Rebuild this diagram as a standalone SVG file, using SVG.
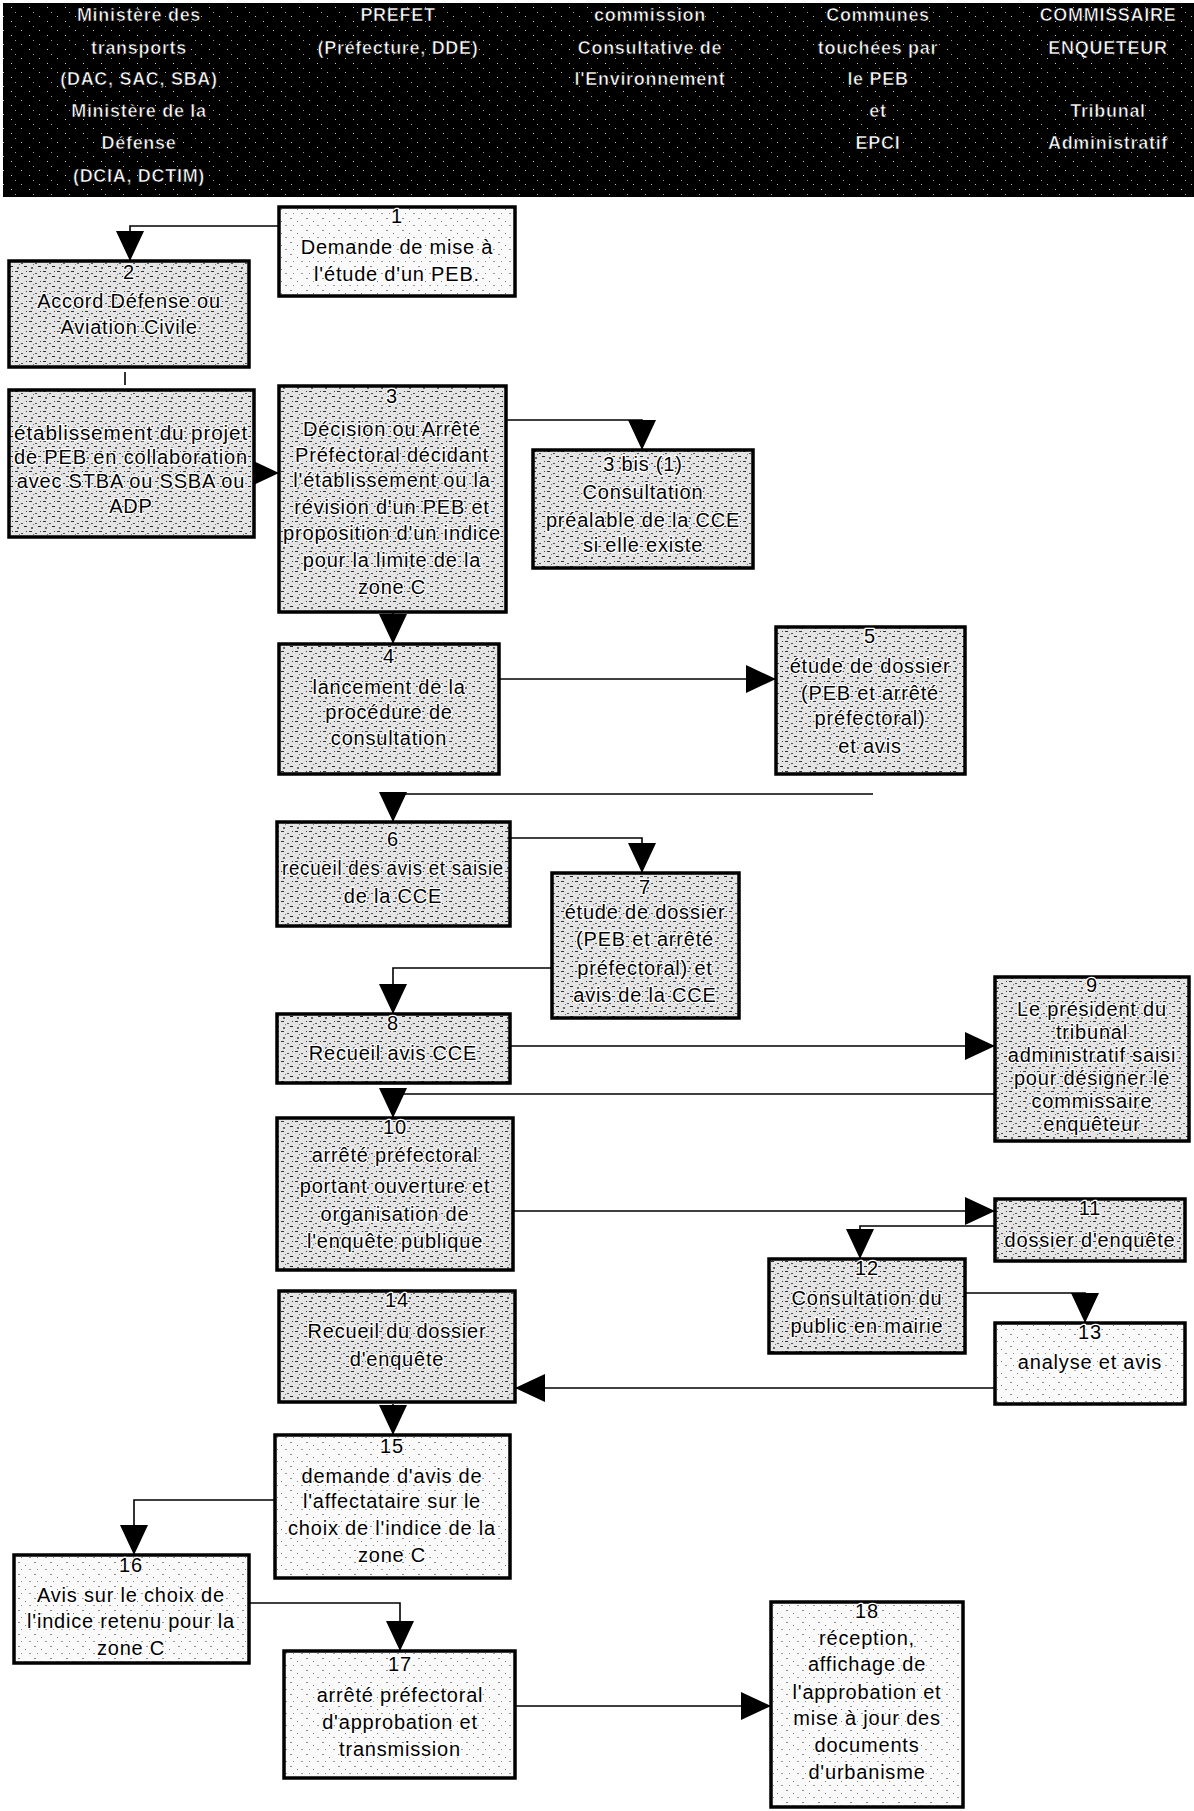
<svg xmlns="http://www.w3.org/2000/svg" width="1194" height="1811" viewBox="0 0 1194 1811">
<style>
.box{stroke:#000;stroke-width:3.5}
.d{fill:url(#nd)}
.l{fill:url(#nl)}
.t{font-family:"Liberation Sans",Arial,sans-serif;font-size:20px;letter-spacing:0.8px;text-anchor:middle;fill:#000;stroke:#fff;stroke-width:2.5px;paint-order:stroke;stroke-linejoin:round}
.h{font-family:"Liberation Sans",Arial,sans-serif;font-size:18px;font-weight:bold;letter-spacing:0.7px;text-anchor:middle;fill:#fff;stroke:#000;stroke-width:0.6px}
.c{fill:none;stroke:#000;stroke-width:1.6;marker-end:url(#ah)}
.c0{fill:none;stroke:#000;stroke-width:1.6}
</style>
<defs>
<marker id="ah" viewBox="0 0 30 28" refX="30" refY="14" markerWidth="30" markerHeight="28" markerUnits="userSpaceOnUse" orient="auto">
<path d="M0,0 L30,14 L0,28 z" fill="#000"/>
</marker>
<pattern id="nd" width="14" height="10" patternUnits="userSpaceOnUse">
<rect width="14" height="10" fill="#e4e4e4"/>
<rect x="1" y="1" width="3" height="1" fill="#333"/>
<rect x="7" y="3" width="2" height="1" fill="#555"/>
<rect x="10" y="6" width="3" height="1" fill="#222"/>
<rect x="3" y="7" width="2" height="2" fill="#666"/>
<rect x="12" y="1" width="1" height="1" fill="#444"/>
<rect x="5" y="4" width="1" height="1" fill="#777"/>
</pattern>
<pattern id="nl" width="16" height="12" patternUnits="userSpaceOnUse">
<rect width="16" height="12" fill="#fafafa"/>
<rect x="2" y="2" width="2" height="1" fill="#888"/>
<rect x="9" y="5" width="1" height="1" fill="#777"/>
<rect x="13" y="9" width="2" height="1" fill="#999"/>
<rect x="5" y="9" width="1" height="1" fill="#888"/>
</pattern>
<pattern id="nh" width="18" height="14" patternUnits="userSpaceOnUse">
<rect width="18" height="14" fill="#000"/>
<rect x="3" y="2" width="1" height="1" fill="#bbb"/>
<rect x="11" y="7" width="1" height="1" fill="#ccc"/>
<rect x="15" y="12" width="1" height="1" fill="#999"/>
</pattern>
</defs>

<g id="header">
<rect x="3" y="3" width="1191" height="194" fill="url(#nh)"/>
<text class="h" x="139" y="21">Ministère des</text>
<text class="h" x="139" y="54">transports</text>
<text class="h" x="139" y="85">(DAC, SAC, SBA)</text>
<text class="h" x="139" y="117">Ministère de la</text>
<text class="h" x="139" y="149">Défense</text>
<text class="h" x="139" y="182">(DCIA, DCTIM)</text>
<text class="h" x="398" y="21">PREFET</text>
<text class="h" x="398" y="54">(Préfecture, DDE)</text>
<text class="h" x="650" y="21">commission</text>
<text class="h" x="650" y="54">Consultative de</text>
<text class="h" x="650" y="85">l'Environnement</text>
<text class="h" x="878" y="21">Communes</text>
<text class="h" x="878" y="54">touchées par</text>
<text class="h" x="878" y="85">le PEB</text>
<text class="h" x="878" y="117">et</text>
<text class="h" x="878" y="149">EPCI</text>
<text class="h" x="1108" y="21">COMMISSAIRE</text>
<text class="h" x="1108" y="54">ENQUETEUR</text>
<text class="h" x="1108" y="117">Tribunal</text>
<text class="h" x="1108" y="149">Administratif</text>
</g>

<g id="connectors">
<path class="c" d="M279,226 H130 V261"/>
<path class="c0" d="M125,372 V385"/>
<path class="c" d="M254,473 H279"/>
<path class="c" d="M506,420 H642 V450"/>
<path class="c" d="M393,612 V644"/>
<path class="c" d="M499,679 H776"/>
<path class="c" d="M873,794 H393 V822"/>
<path class="c" d="M510,838 H642 V873"/>
<path class="c" d="M552,968 H393 V1014"/>
<path class="c" d="M510,1046 H995"/>
<path class="c" d="M995,1094 H393 V1118"/>
<path class="c" d="M513,1211 H995"/>
<path class="c" d="M995,1226 H860 V1259"/>
<path class="c" d="M965,1293 H1085 V1323"/>
<path class="c" d="M995,1388 H515"/>
<path class="c" d="M393,1404 V1435"/>
<path class="c" d="M275,1500 H134 V1555"/>
<path class="c" d="M249,1603 H400 V1651"/>
<path class="c" d="M515,1706 H771"/>
</g>

<g id="n1">
<rect class="box l" x="279" y="207" width="236" height="89"/>
<text class="t" x="397" y="223">1</text>
<text class="t" x="397" y="254">Demande de mise à</text>
<text class="t" x="397" y="281">l'étude d'un PEB.</text>
</g>
<g id="n2">
<rect class="box d" x="9" y="261" width="240" height="106"/>
<text class="t" x="129" y="279">2</text>
<text class="t" x="129" y="308">Accord Défense ou</text>
<text class="t" x="129" y="334">Aviation Civile</text>
</g>
<g id="n2b">
<rect class="box d" x="9" y="390" width="245" height="147"/>
<text class="t" x="131" y="440" textLength="234" lengthAdjust="spacingAndGlyphs">établissement du projet</text>
<text class="t" x="131" y="464" textLength="234" lengthAdjust="spacingAndGlyphs">de PEB en collaboration</text>
<text class="t" x="131" y="488">avec STBA ou SSBA ou</text>
<text class="t" x="131" y="513">ADP</text>
</g>
<g id="n3">
<rect class="box d" x="279" y="386" width="227" height="226"/>
<text class="t" x="392" y="403">3</text>
<text class="t" x="392" y="436">Décision ou Arrêté</text>
<text class="t" x="392" y="462">Préfectoral décidant</text>
<text class="t" x="392" y="487">l'établissement ou la</text>
<text class="t" x="392" y="514">révision d'un PEB et</text>
<text class="t" x="392" y="540" textLength="218" lengthAdjust="spacingAndGlyphs">proposition d'un indice</text>
<text class="t" x="392" y="567">pour la limite de la</text>
<text class="t" x="392" y="594">zone C</text>
</g>
<g id="n3bis">
<rect class="box d" x="533" y="450" width="220" height="118"/>
<text class="t" x="643" y="471">3 bis (1)</text>
<text class="t" x="643" y="499">Consultation</text>
<text class="t" x="643" y="527">préalable de la CCE</text>
<text class="t" x="643" y="552">si elle existe</text>
</g>
<g id="n4">
<rect class="box d" x="279" y="644" width="220" height="130"/>
<text class="t" x="389" y="663">4</text>
<text class="t" x="389" y="694">lancement de la</text>
<text class="t" x="389" y="719">procédure de</text>
<text class="t" x="389" y="745">consultation</text>
</g>
<g id="n5">
<rect class="box d" x="776" y="627" width="189" height="147"/>
<text class="t" x="870" y="643">5</text>
<text class="t" x="870" y="673">étude de dossier</text>
<text class="t" x="870" y="700">(PEB et arrêté</text>
<text class="t" x="870" y="725">préfectoral)</text>
<text class="t" x="870" y="753">et avis</text>
</g>
<g id="n6">
<rect class="box d" x="277" y="822" width="233" height="104"/>
<text class="t" x="393" y="846">6</text>
<text class="t" x="393" y="875" textLength="222" lengthAdjust="spacingAndGlyphs">recueil des avis et saisie</text>
<text class="t" x="393" y="903">de la CCE</text>
</g>
<g id="n7">
<rect class="box d" x="552" y="873" width="187" height="145"/>
<text class="t" x="645" y="894">7</text>
<text class="t" x="645" y="919">étude de dossier</text>
<text class="t" x="645" y="946">(PEB et arrêté</text>
<text class="t" x="645" y="975">préfectoral) et</text>
<text class="t" x="645" y="1002">avis de la CCE</text>
</g>
<g id="n8">
<rect class="box d" x="277" y="1014" width="233" height="69"/>
<text class="t" x="393" y="1030">8</text>
<text class="t" x="393" y="1060">Recueil avis CCE</text>
</g>
<g id="n9">
<rect class="box d" x="995" y="977" width="194" height="164"/>
<text class="t" x="1092" y="992">9</text>
<text class="t" x="1092" y="1016">Le président du</text>
<text class="t" x="1092" y="1039">tribunal</text>
<text class="t" x="1092" y="1062">administratif saisi</text>
<text class="t" x="1092" y="1085">pour désigner le</text>
<text class="t" x="1092" y="1108">commissaire</text>
<text class="t" x="1092" y="1131">enquêteur</text>
</g>
<g id="n10">
<rect class="box d" x="277" y="1118" width="236" height="152"/>
<text class="t" x="395" y="1134">10</text>
<text class="t" x="395" y="1162">arrêté préfectoral</text>
<text class="t" x="395" y="1193">portant ouverture et</text>
<text class="t" x="395" y="1221">organisation de</text>
<text class="t" x="395" y="1248">l'enquête publique</text>
</g>
<g id="n11">
<rect class="box d" x="995" y="1199" width="190" height="62"/>
<text class="t" x="1090" y="1215">11</text>
<text class="t" x="1090" y="1247">dossier d'enquête</text>
</g>
<g id="n12">
<rect class="box d" x="769" y="1259" width="196" height="94"/>
<text class="t" x="867" y="1275">12</text>
<text class="t" x="867" y="1305">Consultation du</text>
<text class="t" x="867" y="1333">public en mairie</text>
</g>
<g id="n13">
<rect class="box l" x="995" y="1323" width="190" height="81"/>
<text class="t" x="1090" y="1339">13</text>
<text class="t" x="1090" y="1369">analyse et avis</text>
</g>
<g id="n14">
<rect class="box d" x="279" y="1291" width="236" height="111"/>
<text class="t" x="397" y="1307">14</text>
<text class="t" x="397" y="1338">Recueil du dossier</text>
<text class="t" x="397" y="1366">d'enquête</text>
</g>
<g id="n15">
<rect class="box l" x="275" y="1435" width="235" height="143"/>
<text class="t" x="392" y="1453">15</text>
<text class="t" x="392" y="1483">demande d'avis de</text>
<text class="t" x="392" y="1508">l'affectataire sur le</text>
<text class="t" x="392" y="1535">choix de l'indice de la</text>
<text class="t" x="392" y="1562">zone C</text>
</g>
<g id="n16">
<rect class="box l" x="14" y="1555" width="235" height="108"/>
<text class="t" x="131" y="1572">16</text>
<text class="t" x="131" y="1602">Avis sur le choix de</text>
<text class="t" x="131" y="1628">l'indice retenu pour la</text>
<text class="t" x="131" y="1655">zone C</text>
</g>
<g id="n17">
<rect class="box l" x="284" y="1651" width="231" height="127"/>
<text class="t" x="400" y="1671">17</text>
<text class="t" x="400" y="1702">arrêté préfectoral</text>
<text class="t" x="400" y="1729">d'approbation et</text>
<text class="t" x="400" y="1756">transmission</text>
</g>
<g id="n18">
<rect class="box l" x="771" y="1602" width="192" height="205"/>
<text class="t" x="867" y="1618">18</text>
<text class="t" x="867" y="1645">réception,</text>
<text class="t" x="867" y="1671">affichage de</text>
<text class="t" x="867" y="1699">l'approbation et</text>
<text class="t" x="867" y="1725">mise à jour des</text>
<text class="t" x="867" y="1752">documents</text>
<text class="t" x="867" y="1779">d'urbanisme</text>
</g>
</svg>
